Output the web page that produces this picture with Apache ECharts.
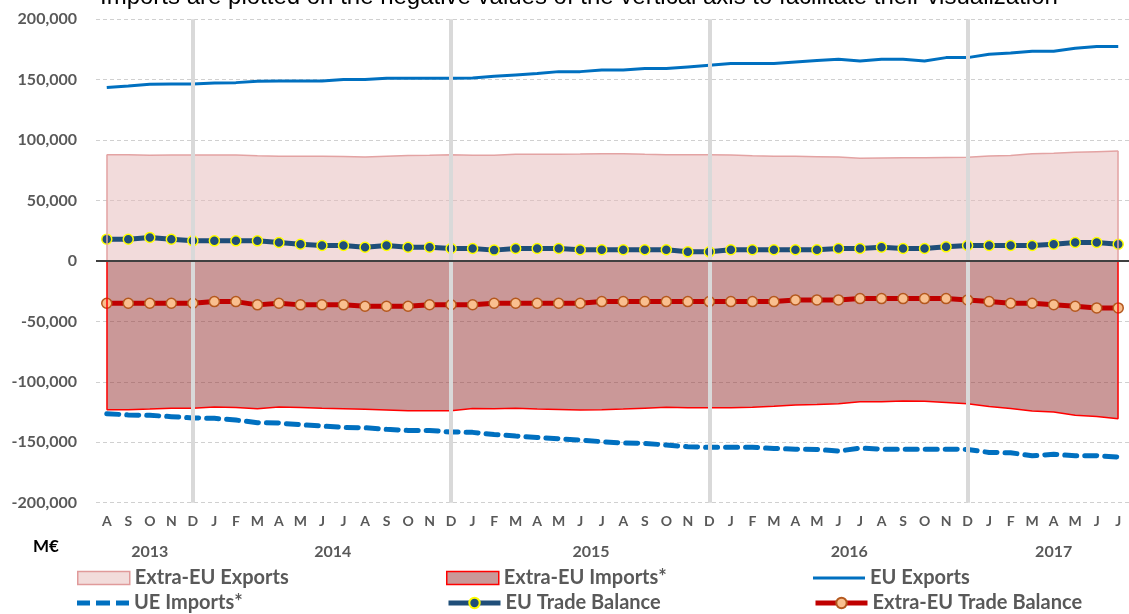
<!DOCTYPE html>
<html>
<head>
<meta charset="utf-8">
<script src="https://cdn.jsdelivr.net/npm/echarts@6/dist/echarts.min.js"></script>
<style>
  html, body { margin: 0; padding: 0; background: #fff; }
  #chart { width: 1129px; height: 614px; }
</style>
</head>
<body>
<div id="chart"></div>
<script>
// months Aug 2013 .. Jul 2017
const months = ['A','S','O','N','D',
  'J','F','M','A','M','J','J','A','S','O','N','D',
  'J','F','M','A','M','J','J','A','S','O','N','D',
  'J','F','M','A','M','J','J','A','S','O','N','D',
  'J','F','M','A','M','J','J'];
const years = ['2013', '2014', '2015', '2016', '2017'];
const monthsPerYear = [5, 12, 12, 12, 7];
const yTicks = [-200000, -150000, -100000, -50000, 0, 50000, 100000, 150000, 200000];

const euExports = [143500,144800,146200,146500,146500,147300,147600,148700,149000,149000,
  149000,150100,150100,151200,151200,151200,151200,151500,152900,154000,
  155100,156700,156700,158100,158100,159200,159200,160600,162000,163400,
  163400,163400,164700,165900,166900,165500,166900,166900,165500,168300,
  168300,171100,172200,173600,173600,176000,177400,177400];
const euImports = [-126300,-127400,-127700,-128800,-129900,-130200,-131600,-133800,-134100,-135500,
  -136600,-137700,-138000,-139300,-140200,-140200,-141500,-141800,-143500,-144800,
  -146000,-147100,-148200,-149500,-150600,-150900,-152300,-153700,-154200,-154200,
  -154200,-155100,-155700,-155900,-157300,-154800,-155700,-155700,-155700,-155700,
  -155900,-158400,-158700,-161100,-160000,-161100,-161100,-162200];
const extraExports = [88000,88000,87500,87800,87800,87800,87800,87000,86700,86700,
  86700,86500,86000,86700,87200,87500,88000,87500,87500,88300,
  88300,88300,88500,88800,88800,88300,88000,88000,88000,87800,
  87000,86600,86600,86300,86000,85000,85300,85500,85500,85700,
  85900,86800,87300,88800,89200,89900,90500,91000];
const extraImports = [-123000,-123000,-122500,-121800,-121800,-120800,-121300,-122200,-120800,-121300,
  -121800,-122200,-122700,-123300,-123900,-123900,-123900,-122000,-122200,-121900,
  -122500,-122800,-123300,-123000,-122500,-121800,-121100,-121400,-121400,-121400,
  -121100,-120200,-119200,-118800,-118100,-116400,-116400,-115800,-116000,-117000,
  -118100,-120300,-122000,-124100,-125000,-127700,-128600,-130500];
const euBalance = [18100,18000,19500,18000,16700,16700,16700,16700,15300,13900,
  12800,12800,11400,12800,11400,11400,10300,10300,9000,10300,
  10300,10300,9300,9300,9300,9300,9300,7600,7600,9300,
  9300,9300,9300,9300,10300,10300,11400,10300,10300,11700,
  12800,12800,12800,12800,13900,15300,15300,13900];
const extraBalance = [-35000,-35000,-35000,-35000,-35000,-33600,-33600,-36300,-35000,-36300,
  -36300,-36300,-37400,-37400,-37400,-36200,-36200,-36200,-35000,-35000,
  -35000,-35000,-35000,-33600,-33600,-33600,-33600,-33600,-33600,-33600,
  -33600,-33600,-32200,-32200,-32200,-31100,-31100,-31100,-31100,-31100,
  -32200,-33600,-35000,-35000,-36200,-37400,-38800,-38800];

const chart = echarts.init(document.getElementById('chart'));

// year labels sit in the middle of each year's run of months
const yearCenters = [];
const yearAt = {};
let start = 0;
monthsPerYear.forEach((n, i) => {
  const c = start + (n - 1) / 2;
  yearCenters.push(c);
  yearAt[c] = years[i];
  start += n;
});
// december separators
const decIdx = [];
months.forEach((m, i) => { if (m === 'D') decIdx.push(i); });
const last = months.length - 1;

const gray = '#595959';
const font = 'Lato';
const fmt = v => echarts.format.addCommas(v);

const legendText = { fontFamily: font, fontWeight: 'bold', fontSize: 20, color: gray };
// one legend per item so the 3x2 layout stays put
function legendItem(left, top, item, itemHeight) {
  return {
    left: left, top: top, padding: 0, itemWidth: 52, itemHeight: itemHeight,
    textStyle: legendText, selectedMode: false, data: [item]
  };
}
const dashIcon = 'path://M0,0h13v5h-13z M19,0h14v5h-14z M39,0h13v5h-13z';

const option = {
  animation: false,
  backgroundColor: '#fff',
  grid: { left: 96, right: 0, top: 19.3, bottom: 111.3 },
  xAxis: [{
    type: 'category',
    data: months,
    boundaryGap: true,
    axisLine: { show: false },
    axisTick: { show: false },
    splitLine: { show: false },
    axisLabel: { interval: 0, margin: 12, fontFamily: font, fontWeight: 'bold', fontSize: 14, color: gray }
  }, {
    type: 'value',
    position: 'bottom',
    offset: 29,
    min: -0.5,
    max: last + 0.5,
    axisLine: { show: false },
    axisTick: { show: false },
    splitLine: { show: false },
    axisLabel: {
      customValues: yearCenters,
      margin: 12,
      formatter: v => yearAt[v] || '',
      fontFamily: font, fontWeight: 'bold', fontSize: 16, color: gray
    }
  }],
  yAxis: {
    type: 'value',
    min: yTicks[0],
    max: yTicks[yTicks.length - 1],
    interval: 50000,
    axisLine: { show: false },
    axisTick: { show: false },
    axisLabel: { margin: 19, formatter: fmt, fontFamily: font, fontWeight: 'bold', fontSize: 16, color: gray },
    splitLine: { lineStyle: { color: '#D0D0D0', type: [4, 3], width: 1 } }
  },
  legend: [
    legendItem(77, 568, { name: 'Extra-EU Exports', icon: 'rect',
      itemStyle: { color: '#F2DCDB', borderColor: '#E09A9A', borderWidth: 1.5 } }, 13),
    legendItem(77, 593, { name: 'UE Imports*', icon: dashIcon,
      itemStyle: { color: '#0070C0' } }, 5),
    legendItem(446, 568, { name: 'Extra-EU Imports*', icon: 'rect',
      itemStyle: { color: '#C99999', borderColor: '#FF0000', borderWidth: 1.5 } }, 13),
    legendItem(446, 593, { name: 'EU Trade Balance',
      lineStyle: { width: 5, color: '#1F4E79' } }, 13),
    legendItem(813, 568, { name: 'EU Exports', icon: 'rect',
      itemStyle: { color: '#0070C0' } }, 3),
    legendItem(813, 593, { name: 'Extra-EU Trade Balance',
      lineStyle: { width: 5, color: '#C00000' } }, 13)
  ],
  graphic: [{
    type: 'text', left: 100, top: -14.5,
    style: { text: 'Imports are plotted on the negative values of the vertical axis to facilitate their visualization',
      font: '24px "Liberation Sans", Arial, sans-serif', fill: '#000' }
  }, {
    type: 'text', left: 33, top: 538,
    style: { text: 'M€', font: 'bold 17px Lato', fill: '#000' }
  }],
  series: [{
    name: 'Extra-EU Exports',
    type: 'line',
    data: extraExports,
    symbol: 'none',
    z: 1,
    lineStyle: { color: '#E3A3A3', width: 1.5 },
    itemStyle: { color: '#F2DCDB' },
    areaStyle: { color: 'rgba(230,184,183,0.5)', opacity: 1 },
    markLine: {
      silent: true, symbol: 'none', label: { show: false },
      lineStyle: { color: '#E3A3A3', width: 1.5, type: 'solid' },
      data: [
        [{ coord: [0, 0] }, { coord: [0, extraExports[0]] }],
        [{ coord: [last, 0] }, { coord: [last, extraExports[last]] }]
      ]
    }
  }, {
    name: 'Extra-EU Imports*',
    type: 'line',
    data: extraImports,
    symbol: 'none',
    z: 1,
    lineStyle: { color: '#FF0000', width: 1.5 },
    itemStyle: { color: '#C99999' },
    areaStyle: { color: 'rgba(150,50,50,0.5)', opacity: 1 },
    markLine: {
      silent: true, symbol: 'none', label: { show: false },
      lineStyle: { color: '#FF0000', width: 1.5, type: 'solid' },
      data: [
        [{ coord: [0, 0] }, { coord: [0, extraImports[0]] }],
        [{ coord: [last, 0] }, { coord: [last, extraImports[last]] }]
      ]
    }
  }, {
    name: 'EU Exports',
    type: 'line',
    data: euExports,
    symbol: 'none',
    z: 2,
    lineStyle: { color: '#0070C0', width: 3 },
    itemStyle: { color: '#0070C0' },
    markLine: {
      silent: true, symbol: 'none', label: { show: false },
      data: decIdx.map(i => ({ xAxis: i, lineStyle: { color: '#D9D9D9', width: 4, type: 'solid' } }))
        .concat([{ yAxis: 0, lineStyle: { color: '#404040', width: 2, type: 'solid' } }])
    }
  }, {
    name: 'UE Imports*',
    type: 'line',
    data: euImports,
    symbol: 'none',
    z: 3,
    lineStyle: { color: '#0070C0', width: 5, type: [12, 8], cap: 'round' },
    itemStyle: { color: '#0070C0' }
  }, {
    name: 'EU Trade Balance',
    type: 'line',
    data: euBalance,
    symbol: 'circle',
    symbolSize: 10,
    z: 4,
    lineStyle: { color: '#1F4E79', width: 5 },
    itemStyle: { color: '#1F4E79', borderColor: '#FFFF00', borderWidth: 1.5 }
  }, {
    name: 'Extra-EU Trade Balance',
    type: 'line',
    data: extraBalance,
    symbol: 'circle',
    symbolSize: 10,
    z: 4,
    lineStyle: { color: '#C00000', width: 5 },
    itemStyle: { color: '#F9BF8F', borderColor: '#B4581E', borderWidth: 1.5 }
  }]
};

chart.setOption(option);
</script>
</body>
</html>
